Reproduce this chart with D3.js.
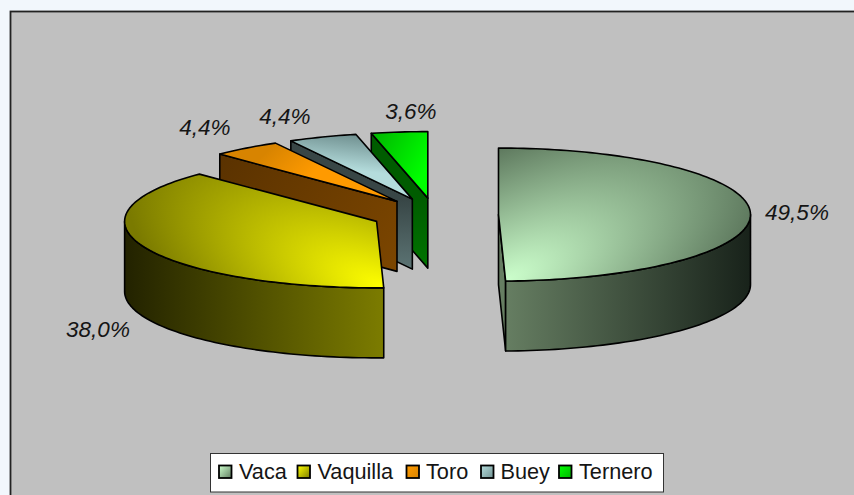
<!DOCTYPE html>
<html>
<head>
<meta charset="utf-8">
<script src="https://cdn.jsdelivr.net/npm/d3@7"></script>
<style>
  html, body { margin: 0; padding: 0; background: #f2f7fc; overflow: hidden; }
  text { font-family: "Liberation Sans", Arial, sans-serif; fill: #151515; }
</style>
</head>
<body>
<div id="chart"></div>
<script>
var categories = ['Vaca', 'Vaquilla', 'Toro', 'Buey', 'Ternero'];
var values = [49.5, 38.0, 4.4, 4.4, 3.6];
var labels = ['49,5%', '38,0%', '4,4%', '4,4%', '3,6%'];

var width = 854,
    height = 495,
    frame = { left: 10.5, top: 11.5 },
    center = { x: 435, y: 214.8 },
    rx = 252,
    ry = 66.5,
    depth = 70,
    explode = 63.5 / rx;

var lightColors = ['#ccffcc', '#ffff00', '#ff9a00', '#b4dcdc', '#00ff00'];
var darkColors = ['#5f7a5f', '#7a7a00', '#d88400', '#6f8f8f', '#00b400'];
var wallLight = ['#667e62', '#7c7c00', '#7c4600', '#5c7474', '#007400'];
var wallDark = ['#18221a', '#222200', '#5a3200', '#384646', '#005c00'];
var labelX = [797, 98, 205, 285, 411];
var labelY = [220, 337, 135, 124, 119];

var svg = d3.select('#chart')
    .append('svg')
    .attr('width', width)
    .attr('height', height);

var defs = svg.append('defs');

svg.append('rect')
    .attr('x', frame.left)
    .attr('y', frame.top)
    .attr('width', width - frame.left + 5)
    .attr('height', height - frame.top + 5)
    .attr('fill', '#c0c0c0')
    .attr('stroke', '#222')
    .attr('stroke-width', 1.8);

var slices = d3.pie().sort(null)(values).map(function(d, i) {
    var mid = (d.startAngle + d.endAngle) / 2;
    return {
        i: i,
        start: d.startAngle,
        end: d.endAngle,
        cx: center.x + explode * rx * Math.sin(mid),
        cy: center.y - explode * ry * Math.cos(mid)
    };
});

function rim(s, angle) {
    return [s.cx + rx * Math.sin(angle), s.cy - ry * Math.cos(angle)];
}

function arcPoints(s, a0, a1) {
    var n = Math.max(2, Math.ceil((a1 - a0) * 40));
    return d3.range(n + 1).map(function(k) {
        return rim(s, a0 + (a1 - a0) * k / n);
    });
}

var line = d3.line();
var chartG = svg.append('g');

function paint(points, fill) {
    chartG.append('path')
        .attr('d', line(points) + 'Z')
        .attr('fill', fill)
        .attr('stroke', '#000')
        .attr('stroke-width', 1.6)
        .attr('stroke-linejoin', 'round');
}

function linearFill(id, x1, y1, x2, y2, c1, c2) {
    var g = defs.append('linearGradient')
        .attr('id', id)
        .attr('gradientUnits', 'userSpaceOnUse')
        .attr('x1', x1).attr('y1', y1)
        .attr('x2', x2).attr('y2', y2);
    g.append('stop').attr('offset', 0).attr('stop-color', c1);
    g.append('stop').attr('offset', 1).attr('stop-color', c2);
    return 'url(#' + id + ')';
}

// light spot at the slice tip, stretched along a diagonal ridge
function ridgeFill(id, x, y, rot, long, short, c1, c2) {
    var g = defs.append('radialGradient')
        .attr('id', id)
        .attr('gradientUnits', 'userSpaceOnUse')
        .attr('cx', 0).attr('cy', 0).attr('r', 1)
        .attr('gradientTransform', 'translate(' + x + ',' + y + ') rotate(' + rot + ') scale(' + long + ',' + short + ')');
    g.append('stop').attr('offset', 0).attr('stop-color', c1);
    g.append('stop').attr('offset', 1).attr('stop-color', c2);
    return 'url(#' + id + ')';
}

// back to front: Ternero, Buey, Toro, Vaquilla, Vaca
[4, 3, 2, 1, 0].forEach(function(i) {
    var s = slices[i];
    var down = function(p) { return [p[0], p[1] + depth]; };
    var tip = [s.cx, s.cy];

    if (i >= 2) {
        // small slices show the radial wall on their starting edge
        var a = rim(s, s.start);
        var wf = i === 2
            ? linearFill('wall' + i, a[0], a[1], tip[0], tip[1] + depth, wallDark[i], wallLight[i])
            : linearFill('wall' + i, tip[0], tip[1], tip[0], tip[1] + depth, wallDark[i], wallLight[i]);
        paint([a, tip, down(tip), down(a)], wf);
    } else {
        var from = i === 0 ? Math.PI / 2 : s.start;
        var to = i === 0 ? s.end : Math.PI * 1.5;
        var rimPts = arcPoints(s, from, to);
        var lowPts = rimPts.map(down).reverse();
        if (i === 0) {
            var e = rim(s, s.end);
            paint([tip, e, down(e), down(tip)], wallLight[0]);
        }
        var l = rim(s, Math.PI * 1.5)[0], r = rim(s, Math.PI / 2)[0];
        var wallFill = i === 0
            ? linearFill('wall0', r, 0, rim(s, s.end)[0], 0, wallDark[0], wallLight[0])
            : linearFill('wall1', l, 0, rim(s, s.start)[0], 0, wallDark[1], wallLight[1]);
        paint(rimPts.concat(lowPts), wallFill);
    }

    var top = arcPoints(s, s.start, s.end);
    var topFill;
    if (i === 0) {
        var p0 = rim(s, s.end);
        topFill = ridgeFill('top0', p0[0], p0[1], -27, 275, 122, lightColors[0], darkColors[0]);
    } else if (i === 1) {
        var p1 = rim(s, s.start);
        topFill = ridgeFill('top1', p1[0], p1[1], 204, 275, 118, lightColors[1], darkColors[1]);
    } else {
        var st = rim(s, s.start), en = rim(s, s.end);
        topFill = i === 4
            ? linearFill('top4', (tip[0] + en[0]) / 2, (tip[1] + en[1]) / 2, st[0], st[1], lightColors[4], darkColors[4])
            : linearFill('top' + i, (tip[0] + st[0]) / 2, (tip[1] + st[1]) / 2, en[0], en[1], lightColors[i], darkColors[i]);
    }
    paint([tip].concat(top), topFill);
});

// data labels
svg.append('g').selectAll('text')
    .data(labels)
    .enter()
    .append('text')
    .attr('x', function(d, i) { return labelX[i]; })
    .attr('y', function(d, i) { return labelY[i]; })
    .attr('text-anchor', 'middle')
    .attr('font-style', 'italic')
    .attr('font-size', 22.5)
    .text(function(d) { return d; });

// legend
var legend = svg.append('g');
legend.append('rect')
    .attr('x', 210.5).attr('y', 453.5)
    .attr('width', 453).attr('height', 38.5)
    .attr('fill', '#fff')
    .attr('stroke', '#333')
    .attr('stroke-width', 1);

var legendKeyX = [219, 297.5, 406.5, 481, 559];
var legendTextX = [239, 317.5, 426, 500.5, 579];

categories.forEach(function(name, i) {
    var fill = linearFill('key' + i, legendKeyX[i], 466, legendKeyX[i] + 13, 478, lightColors[i], darkColors[i]);
    legend.append('rect')
        .attr('x', legendKeyX[i]).attr('y', 465.5)
        .attr('width', 12.5).attr('height', 12.5)
        .attr('fill', fill)
        .attr('stroke', '#000')
        .attr('stroke-width', 1.8);
    legend.append('text')
        .attr('x', legendTextX[i])
        .attr('y', 479)
        .attr('font-size', 21.7)
        .text(name);
});
</script>
</body>
</html>
